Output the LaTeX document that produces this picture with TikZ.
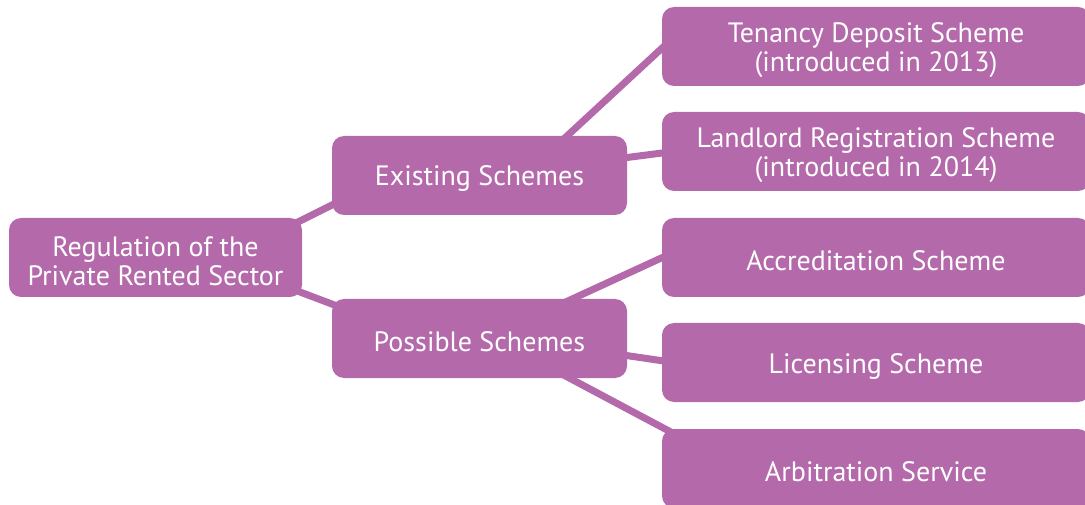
\documentclass[tikz,border=0pt]{standalone}
\usepackage{fontspec}
\setmainfont{PT Sans}
\usetikzlibrary{backgrounds}
\definecolor{plum}{HTML}{B469AA}
\begin{document}
\begin{tikzpicture}[x=1pt,y=1pt,
  box/.style={fill=plum, rounded corners=12pt, inner sep=0pt},
  small/.style={box, minimum width=295pt, minimum height=79pt},
  big/.style={box, minimum width=428pt, minimum height=79pt},
  txt/.style={text=white, align=center, inner sep=0pt, yshift=-3.5pt,
    font=\fontsize{28}{29}\selectfont},
  conn/.style={draw=plum, line width=7pt}]
\useasboundingbox (0,0) rectangle (1085,504);
\clip (0,0) rectangle (1085,504);
\node[small, minimum width=293pt] (root) at (155.5,246.5) {};
\node[small] (exist) at (479.5,328.5) {};
\node[small] (poss) at (479.5,165.5) {};
\node[big] (ten) at (876,457.5) {};
\node[big] (land) at (876,352.5) {};
\node[big] (acc) at (876,246.5) {};
\node[big] (lic) at (876,141.5) {};
\node[big] (arb) at (876,35.5) {};
\node[txt] (rootT) at (root.center) {Regulation of the\\Private Rented Sector};
\node[txt] (existT) at (exist.center) {Existing Schemes};
\node[txt] (possT) at (poss.center) {Possible Schemes};
\node[txt] (tenT) at (ten.center) {Tenancy Deposit Scheme\\(introduced in 2013)};
\node[txt] (landT) at (land.center) {Landlord Registration Scheme\\(introduced in 2014)};
\node[txt] (accT) at (acc.center) {Accreditation Scheme};
\node[txt] (licT) at (lic.center) {Licensing Scheme};
\node[txt] (arbT) at (arb.center) {Arbitration Service};
\begin{pgfonlayer}{background}
\draw[conn] ([shift={(134.5,31.5)}]root.center) -- ([shift={(-129.5,-20.5)}]exist.center);
\draw[conn] ([shift={(134.5,-30.7)}]root.center) -- ([shift={(-129.5,27.6)}]poss.center);
\draw[conn] ([shift={(70.5,23.8)}]exist.center) -- ([shift={(-196,15)}]ten.center);
\draw[conn] ([shift={(130.5,15.8)}]exist.center) -- ([shift={(-196,0.8)}]land.center);
\draw[conn] ([shift={(75.5,31.6)}]poss.center) -- ([shift={(-196,8.1)}]acc.center);
\draw[conn] ([shift={(130.5,-14.6)}]poss.center) -- ([shift={(-196,-0.9)}]lic.center);
\draw[conn] ([shift={(75.5,-31.9)}]poss.center) -- ([shift={(-186,26.3)}]arb.center);
\end{pgfonlayer}
\end{tikzpicture}
\end{document}
